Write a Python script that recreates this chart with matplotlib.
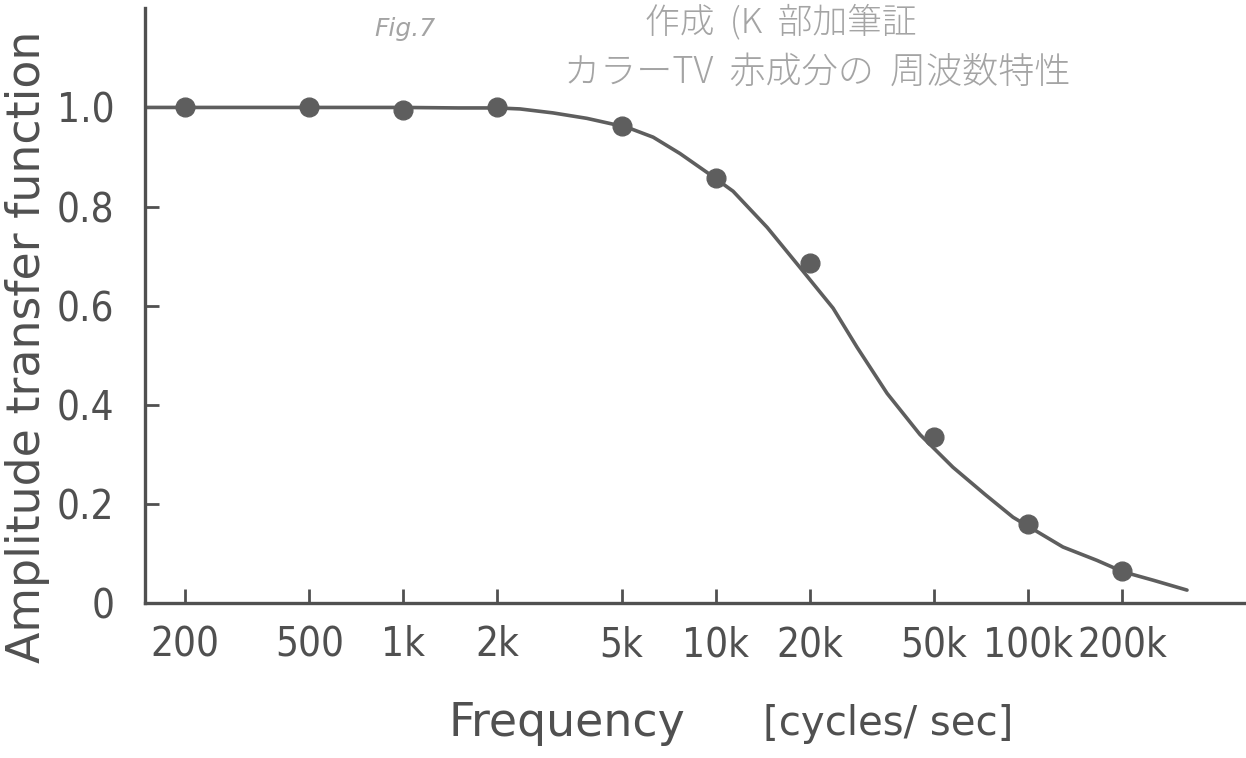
import matplotlib
matplotlib.use("Agg")
import matplotlib.pyplot as plt
from matplotlib import font_manager
from matplotlib.font_manager import FontProperties
from matplotlib.ticker import FixedLocator, NullLocator, FixedFormatter

# measured points (dots)
freq_pts = [200, 500, 1e3, 2e3, 5e3, 10e3, 20e3, 50e3, 100e3, 200e3]
amp_pts = [1.0, 1.0, 0.995, 1.0, 0.963, 0.857, 0.686, 0.335, 0.160, 0.065]

# hand-drawn smooth curve
curve_f = [149, 500, 1000, 1500, 2000, 2365, 3015, 3870, 5200, 6310, 7690, 9380,
           11370, 14620, 18630, 23770, 28370, 35400, 45100, 57500, 72900, 89600,
           129400, 166300, 201400, 251600, 323000]
curve_a = [1.0, 1.0, 1.0, 0.999, 0.999, 0.997, 0.989, 0.978, 0.960, 0.940, 0.907, 0.869,
           0.831, 0.758, 0.677, 0.595, 0.516, 0.423, 0.340, 0.274, 0.219, 0.173,
           0.113, 0.086, 0.063, 0.046, 0.026]

x_ticks = [200, 500, 1e3, 2e3, 5e3, 10e3, 20e3, 50e3, 100e3, 200e3]
x_labels = ["200", "500", "1k", "2k", "5k", "10k", "20k", "50k", "100k", "200k"]
y_ticks = [0, 0.2, 0.4, 0.6, 0.8, 1.0]
y_labels = ["0", "0.2", "0.4", "0.6", "0.8", "1.0"]

INK = "#505050"
LINE = "#5e5e5e"
PENCIL = "#a4a4a4"
JP = ["Noto Sans CJK JP", "DejaVu Sans"]


def narrow_font():
    # the lettering on the scan is tall and narrow; use a condensed face if one exists
    fl = font_manager.fontManager.ttflist
    for f in fl:
        if f.name == "Liberation Sans Narrow" and f.style == "normal" and f.weight in (400, "normal"):
            return f.fname
    for f in fl:
        if (f.stretch in ("condensed", "semi-condensed") and "Sans" in f.name
                and f.style == "normal" and f.weight in (400, "normal", "regular")):
            return f.fname
    return None


path = narrow_font()
if path:
    tick_fp = FontProperties(fname=path, size=29)
else:
    tick_fp = FontProperties(family="DejaVu Sans", size=25)

fig = plt.figure(figsize=(12.46, 7.58), dpi=100)
ax = fig.add_axes([0.1164, 0.2045, 0.8836, 0.7845])

ax.plot(curve_f, curve_a, color=LINE, lw=2.6, solid_capstyle="round", zorder=2)
ax.plot(freq_pts, amp_pts, "o", ms=13.5, color=LINE, mec=LINE, zorder=3)

ax.set_xscale("log")
ax.set_xlim(149, 499000)
ax.set_ylim(0, 1.2)

ax.xaxis.set_major_locator(FixedLocator(x_ticks))
ax.xaxis.set_major_formatter(FixedFormatter(x_labels))
ax.xaxis.set_minor_locator(NullLocator())
ax.set_yticks(y_ticks, y_labels)

for s in ("top", "right"):
    ax.spines[s].set_visible(False)
for s in ("left", "bottom"):
    ax.spines[s].set_color(INK)
    ax.spines[s].set_linewidth(2.4)

ax.tick_params(axis="both", direction="in", length=10, width=2, color=INK,
               labelcolor=INK)
ax.tick_params(axis="x", pad=16)
ax.tick_params(axis="y", pad=22)
for lab in ax.get_xticklabels() + ax.get_yticklabels():
    lab.set_fontproperties(tick_fp)

fig.text(0.022, 0.542, "Amplitude transfer function", rotation=90,
         ha="center", va="center", fontsize=33, color=INK)
fig.text(0.455, 0.045, "Frequency", ha="center", va="center",
         fontsize=33, color=INK)
fig.text(0.713, 0.045, "[cycles/ sec]", ha="center", va="center",
         fontsize=29, color=INK)

# pencil notes on the scan
fig.text(0.325, 0.962, "Fig.7", ha="center", va="center", fontsize=18,
         color=PENCIL, style="italic")
fig.text(0.627, 0.971, "作成  (K  部加筆証", ha="center", va="center",
         fontsize=25, color=PENCIL, family=JP, fontweight="light")
fig.text(0.656, 0.905, "カラーTV  赤成分の  周波数特性", ha="center", va="center",
         fontsize=26, color=PENCIL, family=JP, fontweight="light")

fig.savefig("out.png", dpi=100)
